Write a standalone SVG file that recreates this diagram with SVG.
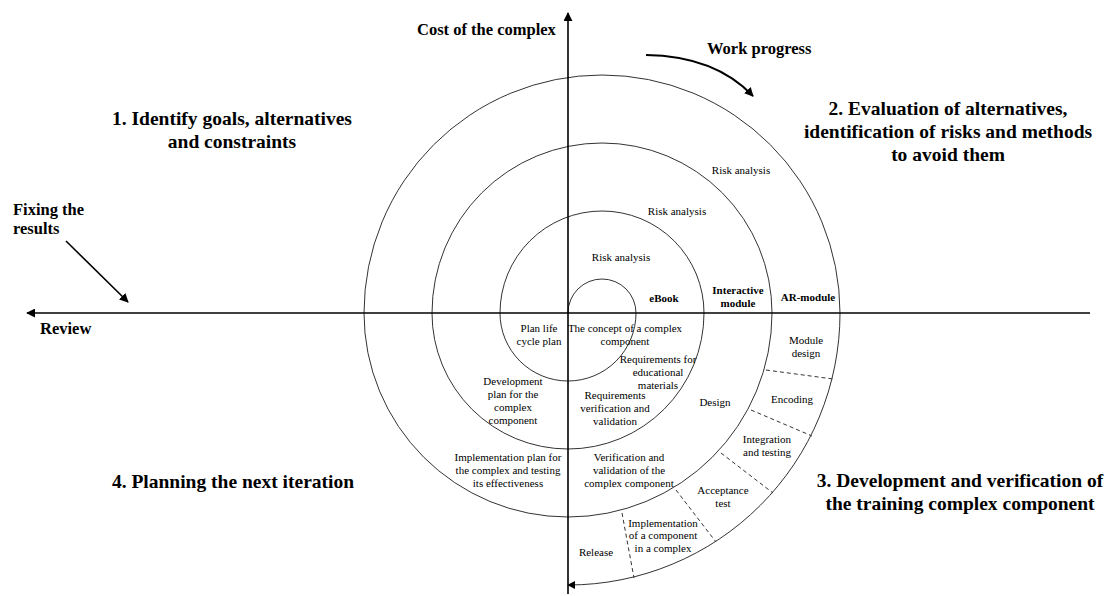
<svg xmlns="http://www.w3.org/2000/svg" width="1105" height="596" viewBox="0 0 1105 596">
<style>
text{font-family:"Liberation Serif","Times New Roman",serif;fill:#000}
.s{font-size:11px;text-anchor:middle}
.sb{font-size:11px;font-weight:bold;text-anchor:middle}
.m{font-size:16.5px;font-weight:bold}
.h{font-size:19.5px;font-weight:bold;text-anchor:middle}
.arc{fill:none;stroke:#333;stroke-width:1}
.dash{fill:none;stroke:#333;stroke-width:1;stroke-dasharray:4 3}
.ax{fill:none;stroke:#000;stroke-width:1.6}
</style>
<defs>
<marker id="ah" viewBox="0 0 10 10" refX="9" refY="5" markerWidth="8" markerHeight="8" markerUnits="userSpaceOnUse" orient="auto">
<path d="M0,0 L10,5 L0,10 z" fill="#000"/>
</marker>
<marker id="ah2" viewBox="0 0 10 10" refX="9" refY="5" markerWidth="9" markerHeight="9" markerUnits="userSpaceOnUse" orient="auto">
<path d="M0,0 L10,5 L0,10 z" fill="#000"/>
</marker>
</defs>
<rect width="1105" height="596" fill="#fff"/>
<g id="connectors">
<path id="spiral" class="arc" d="M568,313 A34,34 0 0 1 636,313 A68,68 0 0 1 500,313 A102,102 0 0 1 704,313 A136,136 0 0 1 432,313 A170,170 0 0 1 772,313 A204,204 0 0 1 364,313 A238,238 0 0 1 840,313 A272,272 0 0 1 568,585" marker-end="url(#ah)"/>
<path class="dash" d="M766,370 L833,379"/>
<path class="dash" d="M751,410 L812,436"/>
<path class="dash" d="M721,453 L773,493"/>
<path class="dash" d="M676,490 L716,542"/>
<path class="dash" d="M622,513 L634,578"/>
<path id="axis-x" class="ax" d="M1090,313 L27,313" marker-end="url(#ah2)"/>
<path id="axis-y" class="ax" d="M568,594 L568,13" marker-end="url(#ah2)"/>
<path id="work-arrow" fill="none" stroke="#000" stroke-width="2" d="M646,55 Q715,56 753,96" marker-end="url(#ah2)"/>
<path id="fix-arrow" fill="none" stroke="#000" stroke-width="1.6" d="M66,241 L128,302" marker-end="url(#ah2)"/>
</g>
<g id="axis-labels">
<text class="m" x="417" y="35">Cost of the complex</text>
<text class="m" x="707" y="54">Work progress</text>
<text class="m" x="13" y="215">Fixing the</text>
<text class="m" x="13" y="234">results</text>
<text class="m" x="40" y="334">Review</text>
</g>
<g id="quadrant-1"><text class="h" x="232" y="125">1. Identify goals, alternatives</text><text class="h" x="232" y="148">and constraints</text></g>
<g id="quadrant-2"><text class="h" x="948" y="115">2. Evaluation of alternatives,</text><text class="h" x="948" y="138">identification of risks and methods</text><text class="h" x="948" y="161">to avoid them</text></g>
<g id="quadrant-3"><text class="h" x="960" y="487">3. Development and verification of</text><text class="h" x="960" y="510">the training complex component</text></g>
<g id="quadrant-4"><text class="h" x="233" y="488">4. Planning the next iteration</text></g>
<g id="risk-3"><text class="s" x="741" y="174">Risk analysis</text></g>
<g id="risk-2"><text class="s" x="677" y="215">Risk analysis</text></g>
<g id="risk-1"><text class="s" x="621" y="261">Risk analysis</text></g>
<g id="ebook"><text class="sb" x="664" y="302">eBook</text></g>
<g id="interactive"><text class="sb" x="738" y="294">Interactive</text><text class="sb" x="738" y="307">module</text></g>
<g id="ar-module"><text class="sb" x="808" y="301">AR-module</text></g>
<g id="plan-life"><text class="s" x="539" y="332">Plan life</text><text class="s" x="539" y="345">cycle plan</text></g>
<g id="concept"><text class="s" x="625" y="332">The concept of a complex</text><text class="s" x="625" y="345">component</text></g>
<g id="req-edu"><text class="s" x="658" y="363">Requirements for</text><text class="s" x="658" y="376">educational</text><text class="s" x="658" y="389">materials</text></g>
<g id="dev-plan"><text class="s" x="513" y="385">Development</text><text class="s" x="513" y="398">plan for the</text><text class="s" x="513" y="411">complex</text><text class="s" x="513" y="424">component</text></g>
<g id="req-ver"><text class="s" x="615" y="399">Requirements</text><text class="s" x="615" y="412">verification and</text><text class="s" x="615" y="425">validation</text></g>
<g id="impl-plan"><text class="s" x="508" y="461">Implementation plan for</text><text class="s" x="508" y="474">the complex and testing</text><text class="s" x="508" y="487">its effectiveness</text></g>
<g id="ver-val"><text class="s" x="629" y="461">Verification and</text><text class="s" x="629" y="474">validation of the</text><text class="s" x="629" y="487">complex component</text></g>
<g id="design"><text class="s" x="715" y="406">Design</text></g>
<g id="module-design"><text class="s" x="806" y="344">Module</text><text class="s" x="806" y="357">design</text></g>
<g id="encoding"><text class="s" x="792" y="403">Encoding</text></g>
<g id="integration"><text class="s" x="767" y="443">Integration</text><text class="s" x="767" y="456">and testing</text></g>
<g id="acceptance"><text class="s" x="723" y="494">Acceptance</text><text class="s" x="723" y="507">test</text></g>
<g id="implementation"><text class="s" x="663" y="527">Implementation</text><text class="s" x="663" y="539">of a component</text><text class="s" x="663" y="552">in a complex</text></g>
<g id="release"><text class="s" x="596" y="556">Release</text></g>
</svg>
